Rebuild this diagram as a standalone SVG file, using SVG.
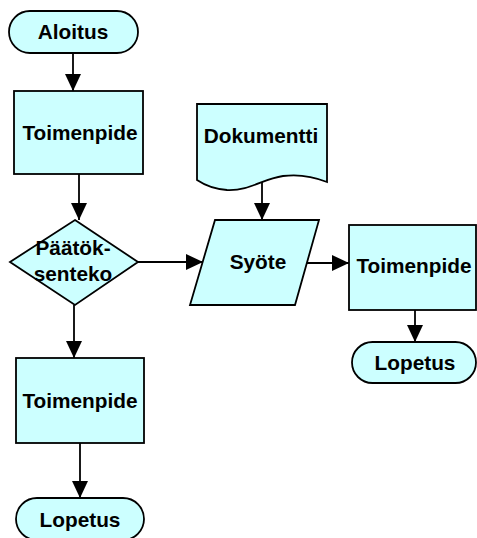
<svg xmlns="http://www.w3.org/2000/svg" width="477" height="538" viewBox="0 0 477 538">
  <style>
    .shape { fill: #ccffff; stroke: #000; stroke-width: 1.8; }
    .label { font-family: "Liberation Sans", Arial, sans-serif; font-weight: bold; font-size: 20.8px; fill: #000; text-anchor: middle; }
    .edge { fill: none; stroke: #000; stroke-width: 1.8; }
  </style>
  <defs>
    <marker id="arrow" markerUnits="userSpaceOnUse" markerWidth="18" markerHeight="17" refX="17" refY="8" orient="auto">
      <path d="M0,0 L17,8 L0,16 Z" fill="#000"/>
    </marker>
  </defs>
  <rect width="477" height="538" fill="#fff"/>

  <g id="connectors">
    <line class="edge" x1="73" y1="53" x2="73" y2="91" marker-end="url(#arrow)"/>
    <line class="edge" x1="79" y1="174" x2="79" y2="220" marker-end="url(#arrow)"/>
    <line class="edge" x1="138" y1="262" x2="203" y2="262" marker-end="url(#arrow)"/>
    <line class="edge" x1="262" y1="182" x2="262" y2="220" marker-end="url(#arrow)"/>
    <line class="edge" x1="303" y1="263" x2="349" y2="263" marker-end="url(#arrow)"/>
    <line class="edge" x1="74" y1="305" x2="74" y2="358" marker-end="url(#arrow)"/>
    <line class="edge" x1="415" y1="310" x2="415" y2="342" marker-end="url(#arrow)"/>
    <line class="edge" x1="80" y1="443" x2="80" y2="498" marker-end="url(#arrow)"/>
  </g>

  <g id="start">
    <rect class="shape" x="9" y="11" width="129" height="42" rx="21" ry="21"/>
    <text class="label" x="73" y="39">Aloitus</text>
  </g>

  <g id="action1">
    <rect class="shape" x="14" y="91" width="129" height="83"/>
    <text class="label" x="80" y="140">Toimenpide</text>
  </g>

  <g id="decision">
    <polygon class="shape" points="75,220 138,262 75,305 10,262"/>
    <text class="label" x="73" y="255">Päätök-</text>
    <text class="label" x="73" y="281">senteko</text>
  </g>

  <g id="document">
    <path class="shape" d="M197,104 H327 V182 C312,176 298,174 283,176 C262,179 250,191 227,190 C212,189 203,184 197,180 Z"/>
    <text class="label" x="261" y="143">Dokumentti</text>
  </g>

  <g id="input">
    <polygon class="shape" points="215,220 319,220 295,305 190,305"/>
    <text class="label" x="258" y="269">Syöte</text>
  </g>

  <g id="action2">
    <rect class="shape" x="349" y="225" width="127" height="85"/>
    <text class="label" x="414" y="273">Toimenpide</text>
  </g>

  <g id="end2">
    <rect class="shape" x="352" y="342" width="124" height="41" rx="20.5" ry="20.5"/>
    <text class="label" x="415" y="370">Lopetus</text>
  </g>

  <g id="action3">
    <rect class="shape" x="16" y="358" width="128" height="85"/>
    <text class="label" x="80" y="408">Toimenpide</text>
  </g>

  <g id="end1">
    <rect class="shape" x="16" y="498" width="128" height="42" rx="21" ry="21"/>
    <text class="label" x="80" y="527">Lopetus</text>
  </g>
</svg>
